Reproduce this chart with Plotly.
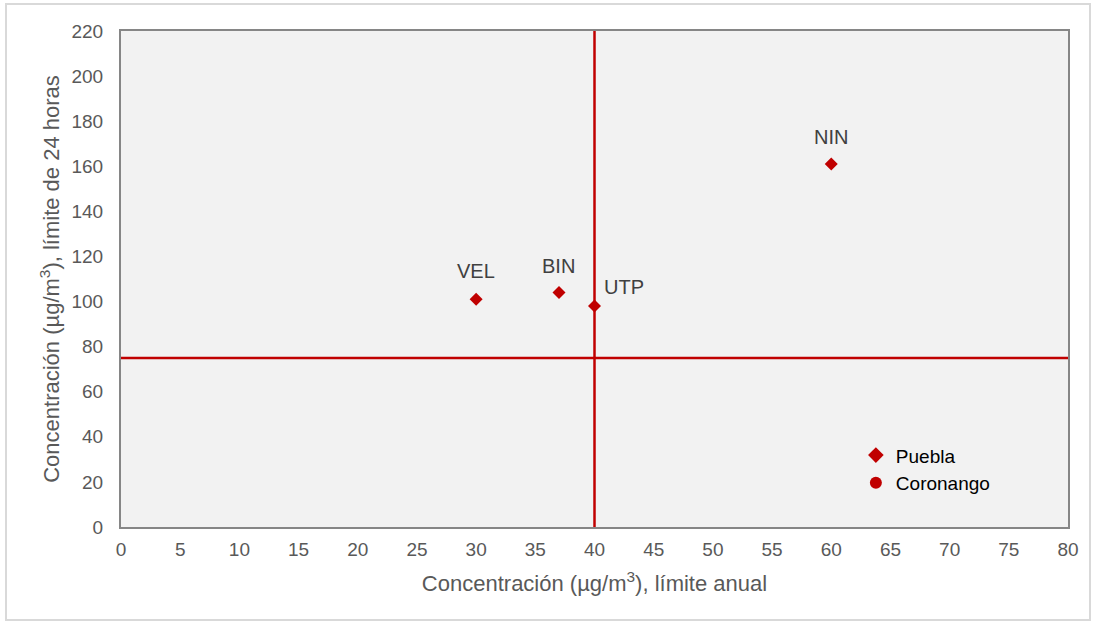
import plotly.graph_objects as go

stations = ["VEL", "BIN", "UTP", "NIN"]
annual = [30, 37, 40, 60]
daily = [101, 104, 98, 161]
coronango_x = [None]
coronango_y = [None]
limit_annual = 40
limit_daily = 75
x_ticks = list(range(0, 81, 5))
y_ticks = list(range(0, 221, 20))

red = "#c00000"
font = "Liberation Sans, Arial, sans-serif"

fig = go.Figure()
fig.add_trace(go.Scatter(
    x=annual, y=daily, mode="markers", name="Puebla",
    marker=dict(symbol="diamond", size=10, color=red),
))
fig.add_trace(go.Scatter(
    x=coronango_x, y=coronango_y, mode="markers", name="Coronango",
    marker=dict(symbol="circle", size=14, color=red),
))

fig.add_shape(type="line", xref="x", yref="paper", x0=limit_annual, x1=limit_annual,
              y0=0, y1=1, line=dict(color=red, width=2.5))
fig.add_shape(type="line", xref="paper", yref="y", x0=0, x1=1,
              y0=limit_daily, y1=limit_daily, line=dict(color=red, width=2.5))

# label offsets (pixels)
offsets = {"VEL": (0, 28), "BIN": (0, 27), "UTP": (29, 19), "NIN": (0, 27)}
for s, xv, yv in zip(stations, annual, daily):
    dx, dy = offsets[s]
    fig.add_annotation(x=xv, y=yv, text=s, showarrow=False, xshift=dx, yshift=dy,
                       font=dict(family=font, size=20, color="#404040"))

# outer border
fig.add_shape(type="rect", xref="paper", yref="paper",
              x0=(6 - 121) / 947, x1=(1090 - 121) / 947,
              y0=(527 - 620) / 496, y1=(527 - 4) / 496,
              line=dict(color="#d9d9d9", width=2), layer="below")

fig.update_layout(
    width=1095, height=624,
    margin=dict(l=121, r=27, t=31, b=97),
    paper_bgcolor="white", plot_bgcolor="#f2f2f2",
    font=dict(family=font, size=19, color="#595959"),
    showlegend=True,
    legend=dict(x=0.776, y=0.183, xanchor="left", yanchor="top",
                bgcolor="rgba(0,0,0,0)", font=dict(size=19, color="#000000"),
                itemwidth=30, tracegroupgap=0, itemsizing="constant"),
    xaxis=dict(range=[0, 80], tickvals=x_ticks, showgrid=False, zeroline=False,
               showline=True, mirror=True, linecolor="#868686", linewidth=2,
               ticks="outside", ticklen=4, tickcolor="rgba(0,0,0,0)",
               tickfont=dict(size=19, color="#595959"),
               title=dict(text="Concentración (µg/m<sup>3</sup>), límite anual",
                          font=dict(size=22, color="#595959"), standoff=17)),
    yaxis=dict(range=[0, 220], tickvals=y_ticks, showgrid=False, zeroline=False,
               showline=True, mirror=True, linecolor="#868686", linewidth=2,
               ticks="outside", ticklen=12, tickcolor="rgba(0,0,0,0)",
               tickfont=dict(size=19, color="#595959"),
               title=dict(text="Concentración (µg/m<sup>3</sup>), límite de 24 horas",
                          font=dict(size=22, color="#595959"), standoff=6)),
)

fig.write_html("out.html")
